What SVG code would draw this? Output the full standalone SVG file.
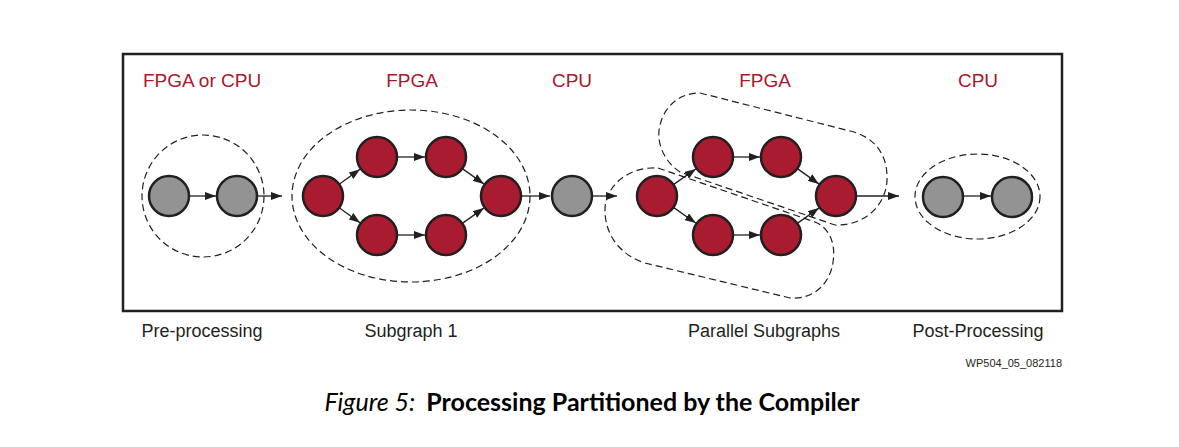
<svg xmlns="http://www.w3.org/2000/svg" width="1179" height="447" viewBox="0 0 1179 447">
<defs>
<marker id="ah" markerUnits="userSpaceOnUse" markerWidth="11" markerHeight="8" refX="11" refY="4" orient="auto"><path d="M0,0 L11,4 L0,8 z" fill="#231F20"/></marker>
<style>
.frame{fill:none;stroke:#231F20;stroke-width:2.5}
.red{fill:#A91B2E;stroke:#231F20;stroke-width:2.5}
.gray{fill:#939393;stroke:#231F20;stroke-width:2.5}
.dash{fill:none;stroke:#231F20;stroke-width:1.2;stroke-dasharray:7 4}
.edge{stroke:#231F20;stroke-width:1.3;fill:none;marker-end:url(#ah)}
.tl{font-family:"Liberation Sans",Arial,sans-serif;font-size:19px;fill:#A6192E;text-anchor:middle}
.bl{font-family:"Liberation Sans",Arial,sans-serif;font-size:18px;fill:#231F20;text-anchor:middle}
</style>
</defs>
<rect width="1179" height="447" fill="#fff"/>
<rect class="frame" x="123" y="54" width="939" height="257"/>
<g id="labels">
<text class="tl" x="202" y="87">FPGA or CPU</text>
<text class="tl" x="412" y="87">FPGA</text>
<text class="tl" x="572" y="87">CPU</text>
<text class="tl" x="765" y="87">FPGA</text>
<text class="tl" x="978" y="87">CPU</text>
<text class="bl" x="202" y="337">Pre-processing</text>
<text class="bl" x="411" y="337">Subgraph 1</text>
<text class="bl" x="764" y="337">Parallel Subgraphs</text>
<text class="bl" x="978" y="337">Post-Processing</text>
<text x="1062" y="367" font-family="Liberation Sans,Arial,sans-serif" font-size="11" fill="#231F20" text-anchor="end">WP504_05_082118</text>
<text x="592" y="411" font-family="Lato,'Open Sans',sans-serif" font-size="25" fill="#000" text-anchor="middle"><tspan font-style="italic">Figure 5:</tspan><tspan font-weight="bold" dx="11">Processing Partitioned by the Compiler</tspan></text>
</g>
<g id="groups">
<circle class="dash" cx="203" cy="196" r="61"/>
<ellipse class="dash" cx="411" cy="196" rx="119" ry="86"/>
<path class="dash" d="M700,93 L850,131 C875,137 888,155 887,180 C886,205 865,226 835,225 L680,172 C662,160 656,140 660,125 C665,105 680,93 700,93 Z"/>
<path class="dash" d="M658,168 L815,222 C830,228 836,245 833,262 C830,285 812,300 790,298 L645,263 C620,255 605,235 605,210 C605,185 630,166 658,168 Z"/>
<ellipse class="dash" cx="977.5" cy="196.5" rx="62.5" ry="42.5"/>
</g>
<g id="connectors">
<line class="edge" x1="189" y1="196" x2="216" y2="196"/>
<line class="edge" x1="257" y1="196" x2="282" y2="196"/>
<line class="edge" x1="339.2" y1="184.3" x2="360" y2="169.3"/>
<line class="edge" x1="339.2" y1="207.7" x2="360" y2="222.7"/>
<line class="edge" x1="397" y1="157" x2="425" y2="157"/>
<line class="edge" x1="397" y1="235" x2="425" y2="235"/>
<line class="edge" x1="462.3" y1="168.6" x2="483.9" y2="183.9"/>
<line class="edge" x1="462.3" y1="223.4" x2="483.9" y2="208.1"/>
<line class="edge" x1="521" y1="196" x2="550" y2="196"/>
<line class="edge" x1="592" y1="196" x2="617" y2="196"/>
<line class="edge" x1="673.4" y1="184.6" x2="695.8" y2="169"/>
<line class="edge" x1="673.4" y1="207.4" x2="695.8" y2="223"/>
<line class="edge" x1="733" y1="157" x2="760" y2="157"/>
<line class="edge" x1="733" y1="235" x2="760" y2="235"/>
<line class="edge" x1="797.3" y1="168.6" x2="818.9" y2="183.9"/>
<line class="edge" x1="797.3" y1="223.4" x2="818.9" y2="208.1"/>
<line class="edge" x1="856" y1="196" x2="899" y2="196"/>
<line class="edge" x1="963" y1="196" x2="991" y2="196"/>
</g>
<g id="n1"><circle class="gray" cx="169" cy="196" r="20"/></g>
<g id="n2"><circle class="gray" cx="237" cy="196" r="20"/></g>
<g id="s1a"><circle class="red" cx="323" cy="196" r="20"/></g>
<g id="s1u1"><circle class="red" cx="377" cy="157" r="20"/></g>
<g id="s1u2"><circle class="red" cx="446" cy="157" r="20"/></g>
<g id="s1l1"><circle class="red" cx="377" cy="235" r="20"/></g>
<g id="s1l2"><circle class="red" cx="446" cy="235" r="20"/></g>
<g id="s1r"><circle class="red" cx="501" cy="196" r="20"/></g>
<g id="cpu"><circle class="gray" cx="572" cy="196" r="20"/></g>
<g id="pa"><circle class="red" cx="657" cy="196" r="20"/></g>
<g id="pu1"><circle class="red" cx="713" cy="157" r="20"/></g>
<g id="pu2"><circle class="red" cx="781" cy="157" r="20"/></g>
<g id="pl1"><circle class="red" cx="713" cy="235" r="20"/></g>
<g id="pl2"><circle class="red" cx="781" cy="235" r="20"/></g>
<g id="pr"><circle class="red" cx="836" cy="196" r="20"/></g>
<g id="q1"><circle class="gray" cx="943" cy="197" r="20"/></g>
<g id="q2"><circle class="gray" cx="1012" cy="197" r="20"/></g>
</svg>
